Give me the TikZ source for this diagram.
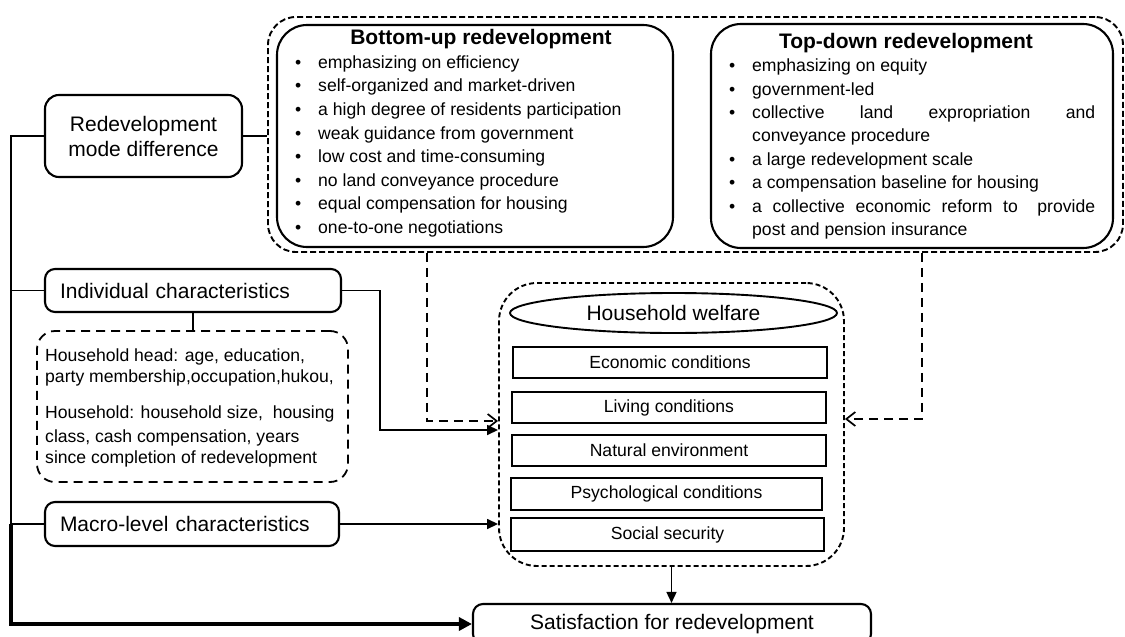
\documentclass[tikz,border=0pt]{standalone}
\usepackage{fontspec}
\setmainfont{Liberation Sans}
\usetikzlibrary{arrows.meta,shapes.geometric}
\newcommand{\fbig}{\fontsize{21}{25}\selectfont}
\newcommand{\fsmall}{\fontsize{17.6}{21}\selectfont}
\newcommand{\ftitle}{\fontsize{21}{25}\selectfont\bfseries}
\tikzset{
  rbox/.style={draw, line width=2.1pt, rounded corners=14pt, inner sep=0pt},
  obox/.style={draw, line width=1.9pt, dash pattern=on 6pt off 3pt, rounded corners=28pt, inner sep=0pt},
  wbox/.style={draw, line width=1.9pt, dash pattern=on 5pt off 3pt, rounded corners=38pt, inner sep=0pt},
  dbox/.style={draw, line width=1.8pt, dash pattern=on 9pt off 6pt, rounded corners=18pt, inner sep=0pt},
  ibox/.style={draw, line width=1.5pt, inner sep=0pt, font=\fsmall},
  txt/.style={inner sep=0pt, anchor=base west, font=\fsmall},
  conn/.style={line width=1.5pt},
  dconn/.style={line width=1.7pt, dash pattern=on 9pt off 6pt},
  thickconn/.style={line width=3.8pt},
  solidtip/.style={-{Triangle[length=11pt,width=10pt]}},
  opentip/.style={-{Straight Barb[length=9pt,width=14pt,line width=1.7pt]}},
}
\begin{document}
\begin{tikzpicture}[x=1pt,y=-1pt]
\clip (0,0) rectangle (1125,637);
\fill[white] (0,0) rectangle (1125,637);

% outer dashed container with the two modes
\node[obox, minimum width=855pt, minimum height=235pt] (modes) at (695.5,134.5) {};
\node[rbox, rounded corners=30pt, minimum width=396pt, minimum height=222pt] (bu) at (475,136) {};
\node[rbox, rounded corners=30pt, minimum width=402pt, minimum height=224pt] (td) at (912,136) {};
\node[font=\ftitle, inner sep=0pt, anchor=base] (butitle) at (481,45) {Bottom-up redevelopment};
\node[font=\ftitle, inner sep=0pt, anchor=base] (tdtitle) at (906,48) {Top-down redevelopment};

\foreach \t [count=\i] in {emphasizing on efficiency, self-organized and market-driven, a high degree of residents participation, weak guidance from government, low cost and time-consuming, no land conveyance procedure, equal compensation for housing, one-to-one negotiations}{
  \node[txt] (bub\i) at (295,{68.3+23.57*(\i-1)}) {•};
  \node[txt] (but\i) at (318,{68.3+23.57*(\i-1)}) {\t};
}

\node[txt] (tdb1) at (729,71.7) {•};
\node[txt] (tdt1) at (752,71.7) {emphasizing on equity};
\node[txt] (tdb2) at (729,95.1) {•};
\node[txt] (tdt2) at (752,95.1) {government-led};
\node[txt] (tdb3) at (729,118.5) {•};
\node[txt] (tdt3) at (752,118.5) {\makebox[343pt][s]{collective land expropriation and}};
\node[txt] (tdt4) at (752,141.9) {conveyance procedure};
\node[txt] (tdb5) at (729,165.4) {•};
\node[txt] (tdt5) at (752,165.4) {a large redevelopment scale};
\node[txt] (tdb6) at (729,188.8) {•};
\node[txt] (tdt6) at (752,188.8) {a compensation baseline for housing};
\node[txt] (tdb7) at (729,212.3) {•};
\node[txt] (tdt7) at (752,212.3) {\makebox[343pt][s]{a collective economic reform to\hspace{9pt} provide}};
\node[txt] (tdt8) at (752,235.7) {post and pension insurance};

% left column
\node[rbox, minimum width=197pt, minimum height=82pt, align=center, font=\fbig] (rmd) at (143.5,136) {Redevelopment\\mode difference};
\node[rbox, rounded corners=10pt, minimum width=296pt, minimum height=43pt, text width=266pt, inner xsep=15pt, align=left, font=\fbig] (ind) at (193,290.5) {Individual characteristics};
\node[dbox, minimum width=311pt, minimum height=151pt] (det) at (192.5,406.5) {};
\node[txt] (d1) at (45,361.7) {Household head: age, education,};
\node[txt] (d2) at (45,382.7) {party membership,occupation,hukou,};
\node[txt] (d3) at (45,418) {Household: household size,\ \ housing};
\node[txt] (d4) at (45,442.7) {class, cash compensation, years};
\node[txt] (d5) at (45,463.3) {since completion of redevelopment};
\node[rbox, rounded corners=10pt, minimum width=294pt, minimum height=44pt, text width=264pt, inner xsep=15pt, align=left, font=\fbig] (mac) at (192,524) {Macro-level characteristics};

% household welfare
\node[wbox, minimum width=345pt, minimum height=283pt] (hw) at (671.5,424.5) {};
\node[ellipse, draw, line width=1.9pt, minimum width=327pt, minimum height=40pt, inner sep=0pt, font=\fbig] (hwt) at (673.5,313) {Household welfare};
\node[ibox, minimum width=314pt, minimum height=31pt] (eco) at (670,362.5) {Economic conditions};
\node[ibox, minimum width=314pt, minimum height=31pt] (liv) at (669,407.5) {Living conditions};
\node[ibox, minimum width=314pt, minimum height=31pt] (nat) at (669,450.5) {Natural environment};
\node[ibox, minimum width=311pt, minimum height=32pt] (psy) at (666.5,494) {Psychological conditions};
\node[ibox, minimum width=313pt, minimum height=33pt] (soc) at (667.5,534.5) {Social security};

\node[rbox, rounded corners=10pt, minimum width=398pt, minimum height=40pt, font=\fbig] (sat) at (672,624) {Satisfaction for redevelopment};

% connectors
\coordinate (sp1) at (11,136);
\coordinate (sp3) at (11,524);
\coordinate (sp4) at (11,624);
\draw[conn] (rmd.west) -- (sp1) -- (sp3) -- (mac.west);
\draw[conn] (ind.west) -- (ind.west -| sp1);
\draw[thickconn, -{Triangle[length=13pt,width=13pt]}] (sp3) -- (sp4) -- (sat.west);
\draw[conn] (rmd.east) -- (rmd.east -| modes.west);
\draw[conn] (ind.south) -- (ind.south |- det.north);

\coordinate (bux) at (427,421);
\coordinate (tdx) at (922,419);
\coordinate (indx) at (380,430);
\draw[dconn, opentip] (modes.south -| bux) -- (bux) -- (bux -| hw.west);
\draw[dconn, opentip] (modes.south -| tdx) -- (tdx) -- (tdx -| hw.east);
\draw[conn, solidtip] (ind.east) -- (ind.east -| indx) -- (indx) -- (indx -| hw.west);
\draw[conn, solidtip] (mac.east) -- (mac.east -| hw.west);
\draw[conn, solidtip] (hw.south) -- (hw.south |- sat.north);
\end{tikzpicture}
\end{document}
